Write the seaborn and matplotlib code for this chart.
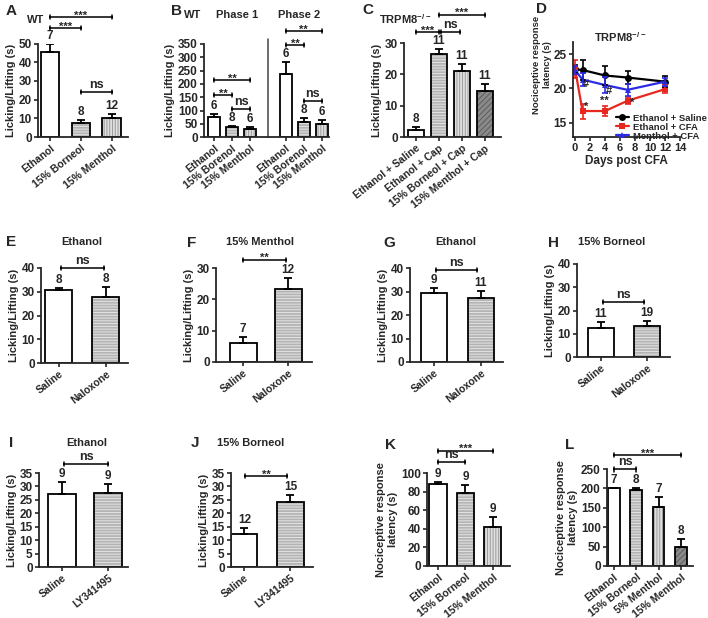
import numpy as np
import pandas as pd
import matplotlib
matplotlib.use("Agg")
import matplotlib.pyplot as plt
from matplotlib.colors import to_rgba
import seaborn as sns

# ---------------- data ----------------
# A  WT
A_groups = ["Ethanol", "15% Borneol", "15% Menthol"]
A_mean = [45.6, 7.6, 10.0]
A_sem = [4.1, 1.5, 2.1]
A_n = [7, 8, 12]

# B  WT, phase 1 / phase 2
B_groups = ["Ethanol", "15% Borenol", "15% Menthol"]
B_phase1_mean = [75, 37.5, 31]
B_phase1_sem = [12, 6, 6.5]
B_phase1_n = [6, 8, 6]
B_phase2_mean = [236, 56, 50]
B_phase2_sem = [45, 15, 15]
B_phase2_n = [6, 8, 6]

# C  TRPM8-/-
C_groups = ["Ethanol + Saline", "Ethanol + Cap", "15% Borneol + Cap", "15% Menthol + Cap"]
C_mean = [2.2, 26.5, 21.2, 14.8]
C_sem = [0.9, 1.5, 2.0, 2.0]
C_n = [8, 11, 11, 11]

# D  TRPM8-/- time course
D_days = [0, 1, 4, 7, 12]
D_series = ["Ethanol + Saline", "Ethanol + CFA", "Menthol + CFA"]
D_saline = [22.8, 22.7, 21.9, 21.6, 21.0]
D_saline_sem = [0.6, 1.5, 1.4, 1.0, 0.8]
D_cfa = [22.9, 16.7, 16.7, 18.2, 19.9]
D_cfa_sem = [1.3, 1.1, 0.7, 0.5, 0.6]
D_menthol = [22.7, 21.3, 20.5, 19.8, 21.0]
D_menthol_sem = [0.6, 1.0, 1.2, 0.9, 0.6]

# E - H  naloxone
E_groups = ["Saline", "Naloxone"]
E_mean = [30.7, 27.9]
E_sem = [1.0, 4.0]
E_n = [8, 8]

F_groups = ["Saline", "Naloxone"]
F_mean = [6.0, 23.4]
F_sem = [1.9, 3.5]
F_n = [7, 12]

G_groups = ["Saline", "Naloxone"]
G_mean = [29.5, 27.4]
G_sem = [1.8, 2.9]
G_n = [9, 11]

H_groups = ["Saline", "Naloxone"]
H_mean = [12.5, 13.5]
H_sem = [2.5, 2.1]
H_n = [11, 19]

# I - J  LY341495
I_groups = ["Saline", "LY341495"]
I_mean = [27.1, 27.7]
I_sem = [4.4, 3.2]
I_n = [9, 9]

J_groups = ["Saline", "LY341495"]
J_mean = [12.3, 24.2]
J_sem = [2.3, 2.7]
J_n = [12, 15]

# K - L  latency
K_groups = ["Ethanol", "15% Borneol", "15% Menthol"]
K_mean = [88, 78.8, 41.6]
K_sem = [2.6, 8.2, 10.8]
K_n = [9, 9, 9]

L_groups = ["Ethanol", "15% Borneol", "5% Menthol", "15% Menthol"]
L_mean = [200, 196, 153, 48]
L_sem = [1.5, 5.5, 24, 21]
L_n = [7, 8, 7, 8]

# ---------------- style ----------------
sns.set_style("ticks")
plt.rcParams["font.family"] = ["Liberation Sans", "DejaVu Sans"]
plt.rcParams["font.weight"] = "bold"
plt.rcParams["axes.labelweight"] = "bold"
plt.rcParams["axes.labelsize"] = 8
plt.rcParams["mathtext.fontset"] = "custom"
plt.rcParams["mathtext.rm"] = "Liberation Sans:bold"
plt.rcParams["mathtext.bf"] = "Liberation Sans:bold"
plt.rcParams["hatch.linewidth"] = 0.7

FILLS = {
    "white": ("white", None, None),
    "hline": ("#b4b4b4", "------", "#e4e4e4"),
    "vline": ("#dedede", "||||||", "#9c9c9c"),
    "dark": ("#8a8a8a", "//////", "#5c5c5c"),
}
LICK = "Licking/Lifting (s)"
LAT = "Nociceptive response\nlatency (s)"

W, H = 708, 618
fig = plt.figure(figsize=(W / 100, H / 100), dpi=100)


def add_ax(l, r, t, b):
    return fig.add_axes([l / W, 1 - b / H, (r - l) / W, (b - t) / H])


def ftext(x, y, s, size=8, ha="center"):
    fig.text(x / W, 1 - y / H, s, fontsize=size, fontweight="bold", ha=ha, va="center")


def style_bar(p, kind):
    face, hatch, hc = FILLS[kind]
    p.set_facecolor(face)
    p.set_edgecolor("black")
    if hatch:
        p.set_hatch(hatch)
        if hasattr(p, "set_hatchcolor"):
            p.set_hatchcolor(hc)
        else:
            p._hatch_color = to_rgba(hc)


def style_axes(ax):
    sns.despine(ax=ax)
    for s in ("left", "bottom"):
        ax.spines[s].set_linewidth(1.3)
    ax.tick_params(width=1.2, length=3, pad=1.5)
    ax.tick_params(axis="y", labelsize=8.5)
    ax.tick_params(axis="x", labelsize=7.5)


def bracket(ax, x1, x2, y, text):
    y0, y1 = ax.get_ylim()
    h = 0.022 * (y1 - y0)
    ax.plot([x1, x1, np.nan, x1, x2, np.nan, x2, x2],
            [y - h, y + h, np.nan, y, y, np.nan, y - h, y + h],
            color="black", lw=1.1, clip_on=False)
    if text == "ns":
        off, fs = 1, 9
    else:
        off, fs = -2.5, 8
    ax.annotate(text, ((x1 + x2) / 2, y), xytext=(0, off), textcoords="offset points",
                ha="center", va="bottom", fontsize=fs, fontweight="bold",
                annotation_clip=False)


def bar_panel(ax, x, labels, mean, sem, n, fills, width, xlim, ylim, yticks, ylabel):
    df = pd.DataFrame({"x": x, "y": mean})
    sns.barplot(data=df, x="x", y="y", native_scale=True, width=width, color="white",
                saturation=1, edgecolor="black", linewidth=1.3, errorbar=None, ax=ax)
    for patch, kind in zip(ax.patches, fills):
        style_bar(patch, kind)
    ax.errorbar(x, mean, yerr=[np.zeros(len(sem)), sem], fmt="none", ecolor="black",
                elinewidth=1.3, capsize=3, capthick=1.3, zorder=3)
    for xi, m, s, k in zip(x, mean, sem, n):
        ax.annotate(str(k), (xi, m + s), xytext=(0, 1.5), textcoords="offset points",
                    ha="center", va="bottom", fontsize=8.5, fontweight="bold",
                    annotation_clip=False)
    ax.set_xlim(*xlim)
    ax.set_ylim(*ylim)
    ax.set_yticks(yticks)
    ax.set_xticks(x)
    ax.set_xticklabels(labels, rotation=38, ha="right", rotation_mode="anchor")
    ax.set_xlabel("")
    ax.set_ylabel(ylabel, labelpad=2)
    style_axes(ax)


# ---------------- A ----------------
ax = add_ax(38, 128, 43.5, 137)
bar_panel(ax, [0, 1, 2], A_groups, A_mean, A_sem, A_n, ["white", "hline", "vline"], 0.61,
          (-0.39, 2.52), (0, 50), range(0, 51, 10), LICK)
bracket(ax, 0, 2, 64, "***")
bracket(ax, 0, 1, 58.3, "***")
bracket(ax, 1, 2, 24, "ns")
ftext(6, 11, "A", 11, "left")
ftext(27, 20, "WT", 8, "left")

# ---------------- B ----------------
ax = add_ax(204, 329, 44, 137.3)
bx = [0, 1, 2, 4, 5, 6]
bar_panel(ax, bx, B_groups + B_groups, B_phase1_mean + B_phase2_mean,
          B_phase1_sem + B_phase2_sem, B_phase1_n + B_phase2_n,
          ["white", "hline", "vline"] * 2, 0.66, (-0.56, 6.4), (0, 350),
          range(0, 351, 50), LICK)
ax.plot([3, 3], [0, 368], color="#444444", lw=1.1, clip_on=False)
bracket(ax, 0, 2, 215, "**")
bracket(ax, 0, 1, 158, "**")
bracket(ax, 1, 2, 105, "ns")
bracket(ax, 4, 6, 398, "**")
bracket(ax, 4, 5, 346, "**")
bracket(ax, 5, 6, 136, "ns")
ftext(171, 11, "B", 11, "left")
ftext(193, 15, "WT")
ftext(237, 15, "Phase 1")
ftext(299, 15, "Phase 2")

# ---------------- C ----------------
ax = add_ax(404, 501, 43, 137)
bar_panel(ax, [0, 1, 2, 3], C_groups, C_mean, C_sem, C_n, ["white", "hline", "vline", "dark"],
          0.7, (-0.52, 3.7), (0, 30), [0, 10, 20, 30], LICK)
bracket(ax, 0, 1, 33.5, "***")
bracket(ax, 1.1, 1.9, 33.5, "ns")
bracket(ax, 1, 3, 39, "***")
ftext(362, 10, "C", 11, "left")
ftext(379, 19, r"TRPM8$^{\mathbf{-/-}}$", 8, "left")

# ---------------- D ----------------
ax = add_ax(573, 680, 42, 137)
dfD = pd.DataFrame({
    "day": D_days * 3,
    "val": D_saline + D_cfa + D_menthol,
    "group": np.repeat(D_series, len(D_days)),
})
D_colors = ["black", "#e8281e", "#2b2be6"]
sns.lineplot(data=dfD, x="day", y="val", hue="group", style="group", hue_order=D_series,
             style_order=D_series, palette=D_colors, markers=["o", "s", "^"], dashes=False,
             markersize=5, markeredgewidth=0, linewidth=1.6, errorbar=None, ax=ax)
for vals, errs, c in zip([D_saline, D_cfa, D_menthol],
                         [D_saline_sem, D_cfa_sem, D_menthol_sem], D_colors):
    ax.errorbar(D_days, vals, yerr=errs, fmt="none", ecolor=c, elinewidth=1.2,
                capsize=2.5, capthick=1.2)
for xx, yy, s in [(1.5, 20.6, "#"), (4.5, 19.6, "#"), (1.5, 17.3, "*"),
                  (3.9, 18.2, "**"), (7.6, 17.9, "*")]:
    ax.text(xx, yy, s, ha="center", va="center", fontsize=8, fontweight="bold")
h, l = ax.get_legend_handles_labels()
ax.legend(h, l, frameon=False, loc="lower left", bbox_to_anchor=(0.4, -0.04),
          fontsize=6.8, handlelength=1.4, handletextpad=0.4, labelspacing=0.0,
          borderaxespad=0, borderpad=0)
ax.set_xlim(-0.27, 14.0)
ax.set_ylim(12.9, 26.8)
ax.set_xticks(range(0, 15, 2))
ax.set_yticks([15, 20, 25])
ax.set_xlabel("Days post CFA", fontsize=8.5, labelpad=1)
ax.set_ylabel(LAT, fontsize=6.8)
style_axes(ax)
ax.tick_params(axis="x", labelsize=8)
ax.yaxis.set_label_coords(-0.2, 0.76)
ftext(536, 9, "D", 11, "left")
ftext(620, 37, r"TRPM8$^{\mathbf{-/-}}$", 8)

# ---------------- E - H ----------------
ax = add_ax(41, 128, 268, 363)
bar_panel(ax, [0, 1], E_groups, E_mean, E_sem, E_n, ["white", "hline"], 0.57,
          (-0.38, 1.47), (0, 40), range(0, 41, 10), LICK)
bracket(ax, 0.05, 0.95, 40, "ns")
ftext(6, 242, "E", 11, "left")
ftext(82, 242, "Ethanol")

ax = add_ax(216, 312, 268, 362)
bar_panel(ax, [0, 1], F_groups, F_mean, F_sem, F_n, ["white", "hline"], 0.6,
          (-0.6, 1.53), (0, 30), range(0, 31, 10), LICK)
bracket(ax, 0, 0.95, 32.6, "**")
ftext(187, 243, "F", 11, "left")
ftext(260, 242, "15% Menthol")

ax = add_ax(410, 503, 268, 362)
bar_panel(ax, [0, 1], G_groups, G_mean, G_sem, G_n, ["white", "hline"], 0.57,
          (-0.51, 1.47), (0, 40), range(0, 41, 10), LICK)
bracket(ax, 0.05, 0.92, 39, "ns")
ftext(383, 243, "G", 11, "left")
ftext(456, 242, "Ethanol")

ax = add_ax(577, 670, 264, 357)
bar_panel(ax, [0, 1], H_groups, H_mean, H_sem, H_n, ["white", "hline"], 0.58,
          (-0.52, 1.5), (0, 40), range(0, 41, 10), LICK)
bracket(ax, 0.05, 0.93, 23.5, "ns")
ftext(548, 243, "H", 11, "left")
ftext(612, 242, "15% Borneol")

# ---------------- I - L ----------------
ax = add_ax(39, 128, 473, 567)
bar_panel(ax, [0, 1], I_groups, I_mean, I_sem, I_n, ["white", "hline"], 0.6,
          (-0.5, 1.43), (0, 35), range(0, 36, 5), LICK)
bracket(ax, 0.05, 1.0, 38.3, "ns")
ftext(9, 443, "I", 11, "left")
ftext(87, 443, "Ethanol")

ax = add_ax(231, 313, 473, 567)
bar_panel(ax, [0, 1], J_groups, J_mean, J_sem, J_n, ["white", "hline"], 0.57,
          (-0.29, 1.49), (0, 35), range(0, 36, 5), LICK)
bracket(ax, 0.02, 0.93, 33.9, "**")
ftext(191, 443, "J", 11, "left")
ftext(251, 443, "15% Borneol")

ax = add_ax(427, 510, 473, 566)
bar_panel(ax, [0, 1, 2], K_groups, K_mean, K_sem, K_n, ["white", "hline", "vline"], 0.62,
          (-0.4, 2.62), (0, 100), range(0, 101, 20), LAT)
bracket(ax, 0, 2, 124, "***")
bracket(ax, 0, 1, 111.5, "ns")
ftext(385, 445, "K", 11, "left")

ax = add_ax(607, 693, 469, 566)
bar_panel(ax, [0, 1, 2, 3], L_groups, L_mean, L_sem, L_n, ["white", "hline", "vline", "dark"],
          0.52, (-0.31, 3.54), (0, 250), range(0, 251, 50), LAT)
bracket(ax, 0, 3, 286, "***")
bracket(ax, 0, 1, 249, "ns")
ftext(565, 445, "L", 11, "left")

fig.savefig("out.png", dpi=100)
